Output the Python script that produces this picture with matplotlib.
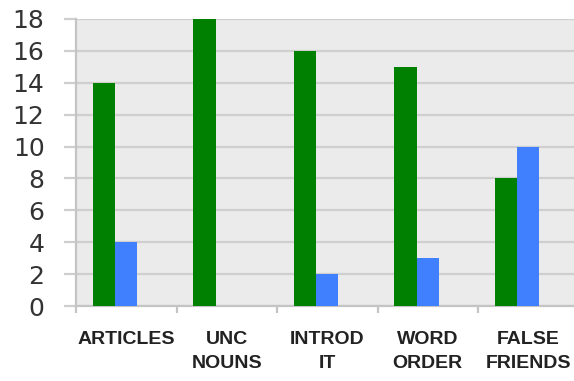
import matplotlib
matplotlib.use('Agg')
import matplotlib.pyplot as plt
import numpy as np

categories = ['ARTICLES', 'UNC\nNOUNS', 'INTROD\nIT', 'WORD\nORDER', 'FALSE\nFRIENDS']
series_green = [14, 18, 16, 15, 8]
series_blue = [4, 0, 2, 3, 10]
yticks = [0, 2, 4, 6, 8, 10, 12, 14, 16, 18]

fig = plt.figure(figsize=(5.74, 3.81), dpi=100)
ax = fig.add_axes([76 / 574, 75 / 381, 502.5 / 574, 287 / 381])
ax.set_facecolor('#EBEBEB')

x = np.arange(len(categories))
w = 0.222
# green sits left of the blue bar, blue is centred on the category
ax.bar(x - 1.5 * w, series_green, width=w, align='edge', color='#008000', zorder=3)
ax.bar(x - 0.5 * w, series_blue, width=w, align='edge', color='#4080FF', zorder=3)

ax.set_xlim(-0.5, len(categories) - 0.5)
ax.set_ylim(0, 18)
ax.set_yticks(yticks)
ax.yaxis.grid(True, color='#CFCFCF', linewidth=1.6, zorder=1)
ax.set_axisbelow(True)

for s in ['top', 'right']:
    ax.spines[s].set_visible(False)
for s in ['left', 'bottom']:
    ax.spines[s].set_color('#C4C4C4')
    ax.spines[s].set_linewidth(1.6)

ax.tick_params(axis='y', length=8.6, width=1.6, color='#CFCFCF', pad=14,
               labelsize=18, labelcolor='#333333')
ax.set_xticks(x)
ax.set_xticklabels(categories, fontfamily='Liberation Sans', fontweight='bold',
                   fontsize=14, color='#222222', linespacing=1.5)
ax.tick_params(axis='x', length=0, pad=18)
ax.set_xticks(np.arange(len(categories) + 1) - 0.5, minor=True)
ax.tick_params(axis='x', which='minor', length=5, width=1.6, color='#C4C4C4')

fig.savefig('out.png', dpi=100)
